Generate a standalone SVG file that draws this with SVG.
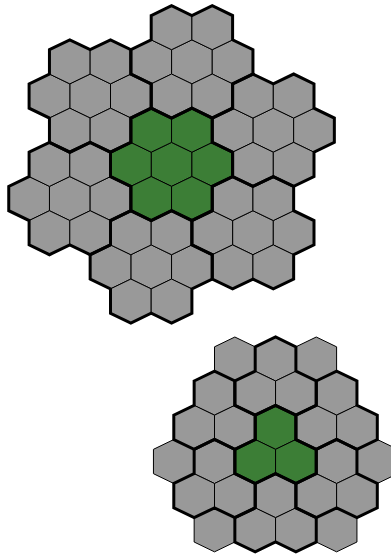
<svg xmlns="http://www.w3.org/2000/svg" width="391" height="555" viewBox="0 0 391 555">
<style>
.g{fill:#999999;stroke:#000;stroke-width:1}
.gr{fill:#3c7e36;stroke:#000;stroke-width:1}
.b{fill:none;stroke:#000;stroke-width:3;stroke-linejoin:miter}
</style>
<defs>
<polygon id="h" points="0,-22 20.35,-12.17 20.35,12.17 0,22 -20.35,12.17 -20.35,-12.17"/>
<g id="fc">
<use href="#h" x="0" y="0"/>
<use href="#h" x="-40.7" y="0"/>
<use href="#h" x="40.7" y="0"/>
<use href="#h" x="-20.35" y="-34.17"/>
<use href="#h" x="20.35" y="-34.17"/>
<use href="#h" x="-20.35" y="34.17"/>
<use href="#h" x="20.35" y="34.17"/>
</g>
<g id="tc">
<use href="#h" x="0" y="0"/>
<use href="#h" x="-20.35" y="34.17"/>
<use href="#h" x="20.35" y="34.17"/>
</g>
<path id="fo" d="M-40.7,-46.34 L-20.35,-56.17 L0,-46.34 L20.35,-56.17 L40.7,-46.34 L40.7,-22 L61.05,-12.17 L61.05,12.17 L40.7,22 L40.7,46.34 L20.35,56.17 L0,46.34 L-20.35,56.17 L-40.7,46.34 L-40.7,22 L-61.05,12.17 L-61.05,-12.17 L-40.7,-22 Z"/>
<path id="to" d="M-20.35,-12.17 L0,-22 L20.35,-12.17 L20.35,12.17 L40.7,22 L40.7,46.34 L20.35,56.17 L0,46.34 L-20.35,56.17 L-40.7,46.34 L-40.7,22 L-20.35,12.17 Z"/>
</defs>
<g id="cells">
<g id="flower-top" class="g"><use href="#fc" x="191.9" y="61.87"/></g>
<g id="flower-upper-left" class="g"><use href="#fc" x="90.15" y="96.04"/></g>
<g id="flower-lower-left" class="g"><use href="#fc" x="69.8" y="198.55"/></g>
<g id="flower-bottom" class="g"><use href="#fc" x="151.2" y="266.89"/></g>
<g id="flower-lower-right" class="g"><use href="#fc" x="252.95" y="232.72"/></g>
<g id="flower-upper-right" class="g"><use href="#fc" x="273.3" y="130.21"/></g>
<g id="flower-center" class="gr"><use href="#fc" x="171.55" y="164.38"/></g>
<g id="tri-top" class="g"><use href="#tc" x="275.55" y="359"/></g>
<g id="tri-upper-left" class="g"><use href="#tc" x="214.5" y="393.17"/></g>
<g id="tri-upper-right" class="g"><use href="#tc" x="336.6" y="393.17"/></g>
<g id="tri-center" class="gr"><use href="#tc" x="275.55" y="427.34"/></g>
<g id="tri-lower-left" class="g"><use href="#tc" x="214.5" y="461.51"/></g>
<g id="tri-lower-right" class="g"><use href="#tc" x="336.6" y="461.51"/></g>
<g id="tri-bottom" class="g"><use href="#tc" x="275.55" y="495.68"/></g>
<g id="single-1" class="g"><use href="#h" x="234.85" y="359"/></g>
<g id="single-2" class="g"><use href="#h" x="316.25" y="359"/></g>
<g id="single-3" class="g"><use href="#h" x="173.8" y="461.51"/></g>
<g id="single-4" class="g"><use href="#h" x="377.3" y="461.51"/></g>
<g id="single-5" class="g"><use href="#h" x="214.5" y="529.85"/></g>
<g id="single-6" class="g"><use href="#h" x="336.6" y="529.85"/></g>
</g>
<g id="borders" class="b">
<use href="#fo" x="191.9" y="61.87"/>
<use href="#fo" x="90.15" y="96.04"/>
<use href="#fo" x="69.8" y="198.55"/>
<use href="#fo" x="151.2" y="266.89"/>
<use href="#fo" x="252.95" y="232.72"/>
<use href="#fo" x="273.3" y="130.21"/>
<use href="#fo" x="171.55" y="164.38"/>
<use href="#to" x="275.55" y="359"/>
<use href="#to" x="214.5" y="393.17"/>
<use href="#to" x="336.6" y="393.17"/>
<use href="#to" x="275.55" y="427.34"/>
<use href="#to" x="214.5" y="461.51"/>
<use href="#to" x="336.6" y="461.51"/>
<use href="#to" x="275.55" y="495.68"/>
</g>
</svg>
